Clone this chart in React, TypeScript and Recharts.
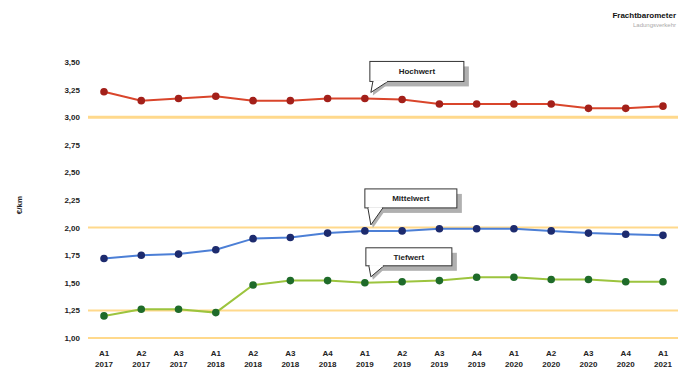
import React from "react";
import { LineChart, Line, XAxis, YAxis, ReferenceLine, ReferenceDot } from "recharts";

const quarters = ["A1", "A2", "A3", "A1", "A2", "A3", "A4", "A1", "A2", "A3", "A4", "A1", "A2", "A3", "A4", "A1"];
const years = ["2017", "2017", "2017", "2018", "2018", "2018", "2018", "2019", "2019", "2019", "2019", "2020", "2020", "2020", "2020", "2021"];
const hochwert = [3.23, 3.15, 3.17, 3.19, 3.15, 3.15, 3.17, 3.17, 3.16, 3.12, 3.12, 3.12, 3.12, 3.08, 3.08, 3.1];
const mittelwert = [1.72, 1.75, 1.76, 1.8, 1.9, 1.91, 1.95, 1.97, 1.97, 1.99, 1.99, 1.99, 1.97, 1.95, 1.94, 1.93];
const tiefwert = [1.2, 1.26, 1.26, 1.23, 1.48, 1.52, 1.52, 1.5, 1.51, 1.52, 1.55, 1.55, 1.53, 1.53, 1.51, 1.51];
const yTicks = [1, 1.25, 1.5, 1.75, 2, 2.25, 2.5, 2.75, 3, 3.25, 3.5];
const orangeLines = [3, 2, 1.25];

const data = quarters.map((q, i) => ({
  key: `${q}-${years[i]}-${i}`,
  q,
  y: years[i],
  hoch: hochwert[i],
  mittel: mittelwert[i],
  tief: tiefwert[i],
}));

const FONT = "'Liberation Sans', Arial, sans-serif";

const XTick = (props: any) => {
  const { x, y, payload } = props;
  const d = data[payload.index];
  return (
    <g>
      <text x={x} y={y + 10} textAnchor="middle" fontSize={8} fontWeight="bold" fill="#222" fontFamily={FONT}>{d.q}</text>
      <text x={x} y={y + 21} textAnchor="middle" fontSize={8} fontWeight="bold" fill="#222" fontFamily={FONT}>{d.y}</text>
    </g>
  );
};

const YTick = (props: any) => {
  const { x, y, payload } = props;
  return (
    <text x={x} y={y + 3} textAnchor="end" fontSize={8} fontWeight="bold" fill="#222" fontFamily={FONT}>
      {Number(payload.value).toFixed(2).replace(".", ",")}
    </text>
  );
};

const makeCallout = (label: string, dx: number, dy: number, w: number, h: number) => (props: any) => {
  const { cx, cy } = props;
  const bx = cx + dx;
  const by = cy + dy;
  return (
    <g>
      <rect x={bx + 5} y={by + 5} width={w} height={h} fill="#b0b0b0" />
      <polygon points={`${bx + 4},${by + h} ${bx + 22},${by + h} ${cx + 8},${cy - 3}`} fill="#b0b0b0" />
      <rect x={bx} y={by} width={w} height={h} fill="#fff" stroke="#333" strokeWidth={1} />
      <polyline points={`${bx + 3},${by + h} ${cx + 6},${cy - 6} ${bx + 18},${by + h}`} fill="#fff" stroke="#333" strokeWidth={1} />
      <line x1={bx + 4} y1={by + h} x2={bx + 17} y2={by + h} stroke="#fff" strokeWidth={1.5} />
      <text x={bx + w / 2} y={by + h / 2 + 3} textAnchor="middle" fontSize={8} fontWeight="bold" fill="#222" fontFamily={FONT}>{label}</text>
    </g>
  );
};

export default function App() {
  return (
    <div style={{ position: "absolute", left: 0, top: 0, width: 684, height: 370, background: "#fff" }}>
      <LineChart width={684} height={370} data={data} margin={{ top: 62, right: 6, bottom: 0, left: 0 }}>
        <XAxis
          dataKey="key"
          tick={<XTick />}
          tickLine={false}
          axisLine={{ stroke: "#FFD98C", strokeWidth: 2 }}
          height={32}
          interval={0}
          padding={{ left: 16, right: 15 }}
        />
        <YAxis
          domain={[1, 3.5]}
          ticks={yTicks}
          tick={<YTick />}
          tickLine={false}
          axisLine={false}
          width={88}
          interval={0}
        />
        {orangeLines.map((v) => (
          <ReferenceLine key={v} y={v} stroke="#FFD98C" strokeWidth={v === 3 ? 3 : 2} />
        ))}
        <Line type="linear" dataKey="hoch" stroke="#D9452B" strokeWidth={2} isAnimationActive={false}
          dot={{ r: 2.8, fill: "#A3201A", stroke: "#A3201A" }} />
        <Line type="linear" dataKey="mittel" stroke="#4C7FD6" strokeWidth={2} isAnimationActive={false}
          dot={{ r: 2.8, fill: "#1D2B6E", stroke: "#1D2B6E" }} />
        <Line type="linear" dataKey="tief" stroke="#9CC43E" strokeWidth={2} isAnimationActive={false}
          dot={{ r: 2.8, fill: "#1F6B2A", stroke: "#1F6B2A" }} />
        <ReferenceDot x={data[7].key} y={hochwert[7]} ifOverflow="visible" shape={makeCallout("Hochwert", 5, -37, 94, 20)} />
        <ReferenceDot x={data[7].key} y={mittelwert[7]} ifOverflow="visible" shape={makeCallout("Mittelwert", 0, -42, 92, 19)} />
        <ReferenceDot x={data[7].key} y={tiefwert[7]} ifOverflow="visible" shape={makeCallout("Tiefwert", 1, -35, 86, 18)} />
        <text x={22} y={205} transform="rotate(-90 22 205)" textAnchor="middle" fontSize={8} fontWeight="bold" fill="#222" fontFamily={FONT}>€/km</text>
        <text x={676} y={18} textAnchor="end" fontSize={8} fontWeight="bold" fill="#111" fontFamily={FONT}>Frachtbarometer</text>
        <text x={676} y={27} textAnchor="end" fontSize={6} fill="#aaa" fontFamily={FONT}>Ladungsverkehr</text>
      </LineChart>
    </div>
  );
}
